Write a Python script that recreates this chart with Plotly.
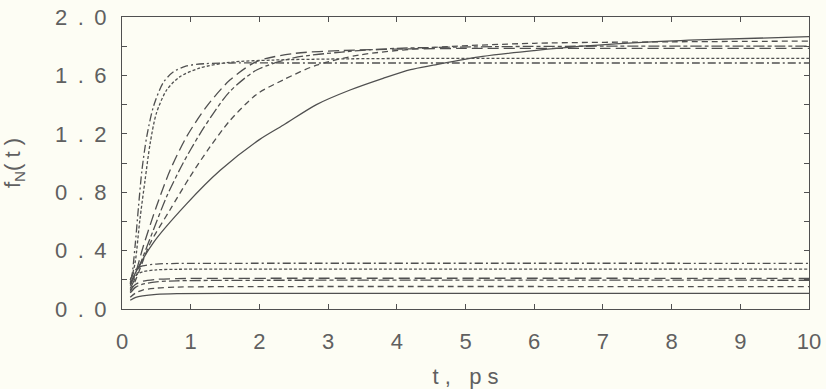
import plotly.graph_objects as go

# ---- data ----
u1_t = [0.12, 0.14, 0.19, 0.24, 0.29, 0.36, 0.46, 0.60, 0.75, 0.94, 1.2, 1.6, 2.5, 4.0, 10.0]
u1_y = [0.20, 0.22, 0.43, 0.70, 0.95, 1.18, 1.39, 1.55, 1.625, 1.665, 1.68, 1.685, 1.685, 1.685, 1.685]

u2_t = [0.12, 0.19, 0.26, 0.335, 0.41, 0.50, 0.65, 0.84, 1.13, 1.57, 2.2, 3.0, 4.0, 6.0, 10.0]
u2_y = [0.18, 0.315, 0.61, 0.88, 1.135, 1.34, 1.50, 1.59, 1.65, 1.69, 1.705, 1.712, 1.716, 1.717, 1.717]

u3_t = [0.12, 0.20, 0.31, 0.50, 0.70, 0.94, 1.23, 1.57, 1.96, 2.5, 3.2, 4.0, 5.0, 7.0, 10.0]
u3_y = [0.16, 0.25, 0.43, 0.70, 0.95, 1.18, 1.386, 1.568, 1.695, 1.75, 1.77, 1.78, 1.785, 1.785, 1.785]

u4_t = [0.12, 0.20, 0.30, 0.456, 0.65, 0.89, 1.135, 1.33, 1.57, 1.96, 2.5, 3.2, 4.0, 5.5, 7.0, 10.0]
u4_y = [0.14, 0.22, 0.35, 0.54, 0.77, 1.0, 1.20, 1.34, 1.49, 1.637, 1.72, 1.76, 1.785, 1.797, 1.80, 1.80]

u5_t = [0.12, 0.20, 0.41, 0.70, 0.99, 1.28, 1.57, 1.96, 2.35, 2.83, 3.46, 4.5, 6.0, 8.0, 10.0]
u5_y = [0.12, 0.20, 0.45, 0.68, 0.906, 1.11, 1.29, 1.47, 1.57, 1.67, 1.74, 1.79, 1.82, 1.83, 1.835]

u6_t = [0.12, 0.165, 0.45, 0.94, 1.43, 2.0, 2.35, 2.83, 3.32, 3.8, 4.2, 4.53, 5.25, 6.0, 6.7, 7.7, 8.5, 10.0]
u6_y = [0.17, 0.22, 0.45, 0.72, 0.95, 1.16, 1.26, 1.40, 1.50, 1.58, 1.64, 1.67, 1.73, 1.77, 1.80, 1.83, 1.845, 1.865]

low_t = [0.12, 0.20, 0.30, 0.50, 0.80, 1.5, 10.0]
l1_y = [0.20, 0.27, 0.295, 0.308, 0.312, 0.313, 0.313]
l2_y = [0.17, 0.23, 0.255, 0.268, 0.272, 0.273, 0.273]
l3_y = [0.13, 0.17, 0.19, 0.203, 0.208, 0.21, 0.21]
l4_y = [0.11, 0.15, 0.17, 0.186, 0.193, 0.196, 0.197]
l5_y = [0.08, 0.11, 0.13, 0.143, 0.150, 0.153, 0.153]
l6_y = [0.06, 0.08, 0.09, 0.100, 0.105, 0.107, 0.107]

x_ticks = list(range(0, 11))
x_labels = [str(v) for v in x_ticks]
y_ticks = [0.0, 0.4, 0.8, 1.2, 1.6, 2.0]
SP = "\u00a0\u2009"
y_labels = [f"{s[0]}{SP}.{SP}{s[2]}" for s in ["0.0", "0.4", "0.8", "1.2", "1.6", "2.0"]]
x_title = "t\u00a0,\u00a0\u00a0\u00a0p\u00a0s"
y_title = "f<sub>N</sub>(\u00a0t\u00a0)"

styles = ["8px,3px,2px,3px", "3px,2px", "11px,5px", "11px,3px,4px,3px", "6px,4px", "solid"]

LINE = "#505050"
BG = "#fdfdf4"

fig = go.Figure()
uppers = [(u1_t, u1_y), (u2_t, u2_y), (u3_t, u3_y), (u4_t, u4_y), (u5_t, u5_y), (u6_t, u6_y)]
lowers = [l1_y, l2_y, l3_y, l4_y, l5_y, l6_y]
for (t, y), d in zip(uppers, styles):
    fig.add_trace(go.Scatter(x=t, y=y, mode="lines",
                             line=dict(color=LINE, width=1.3, dash=d, shape="spline", smoothing=0.8),
                             showlegend=False, hoverinfo="skip"))
for y, d in zip(lowers, styles):
    fig.add_trace(go.Scatter(x=low_t, y=y, mode="lines",
                             line=dict(color=LINE, width=1.3, dash=d, shape="spline", smoothing=0.8),
                             showlegend=False, hoverinfo="skip"))

tickfont = dict(family="Liberation Sans", size=22, color="#606060")

fig.update_layout(
    width=826, height=389,
    margin=dict(l=122, r=17, t=17, b=80),
    paper_bgcolor=BG, plot_bgcolor=BG,
    xaxis=dict(range=[0, 10], tickvals=x_ticks, ticktext=x_labels, automargin=False,
               showline=True, linecolor=LINE, linewidth=1.2, mirror="ticks",
               ticks="inside", ticklen=5, tickcolor=LINE, showgrid=False, zeroline=False,
               tickfont=tickfont, ticklabelstandoff=12,
               title=dict(text=x_title, font=tickfont, standoff=18)),
    yaxis=dict(range=[0, 2], tickvals=y_ticks, ticktext=y_labels, automargin=False,
               showline=True, linecolor=LINE, linewidth=1.2, mirror="ticks",
               ticks="inside", ticklen=5, tickcolor=LINE, showgrid=False, zeroline=False,
               minor=dict(tickvals=[0.2, 0.6, 1.0, 1.4, 1.8], ticks="inside", ticklen=5, tickcolor=LINE),
               tickfont=tickfont, ticklabelstandoff=10,
               title=dict(text=y_title, font=tickfont, standoff=30)),
)

fig.write_html("out.html")
